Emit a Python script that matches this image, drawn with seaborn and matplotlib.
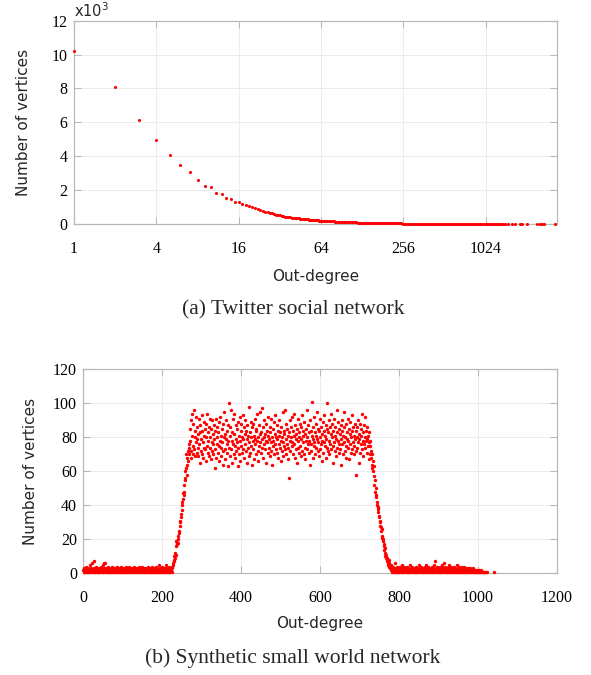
import numpy as np
import pandas as pd
import matplotlib
matplotlib.use("Agg")
import matplotlib.pyplot as plt
import seaborn as sns
from matplotlib.ticker import FixedLocator, FixedFormatter, NullLocator

# ---------------- (a) Twitter social network ----------------
tw_head_degrees = list(range(1, 65))
tw_head_counts = [10240, 8060, 6120, 4940, 4100, 3470, 3060, 2610, 2270, 2160,
                  1840, 1800, 1550, 1470, 1290, 1270, 1200, 1130, 1080, 1000,
                  930, 860, 800, 750, 700, 680, 650, 620, 590, 560,
                  540, 510, 480, 460, 440, 430, 410, 400, 380, 370,
                  360, 350, 340, 330, 320, 310, 300, 290, 285, 280,
                  270, 265, 260, 250, 245, 240, 230, 225, 220, 215,
                  210, 205, 200, 200]
tw_tail_degrees = [65, 67, 69, 71, 73, 75, 77, 79, 81, 83, 85, 87, 89, 91, 94, 96, 99, 101,
                   104, 107, 110, 113, 116, 119, 122, 125, 128,
                   131, 135, 138, 142, 146, 150, 154, 158, 162, 166, 171, 175, 180, 185, 190,
                   195, 200, 205, 211, 217, 223, 229, 235, 241, 248, 256,
                   263, 270, 277, 285, 293, 301, 309, 317, 326, 335, 344, 353, 363, 373, 383,
                   393, 404, 415, 426, 437, 449, 461, 474, 487, 500, 512,
                   527, 541, 556, 571, 586, 602, 619, 636, 653, 671, 689, 708, 727, 747, 767,
                   788, 810, 832, 854, 878, 901, 926, 951, 977, 1004, 1024,
                   1052, 1081, 1110, 1140, 1172, 1203, 1236, 1270, 1305, 1340, 1377, 1414,
                   1490, 1596, 1674, 1830, 1886, 2048, 2427, 2560, 2650, 2740, 3310]
tw_tail_counts = [195, 188, 180, 172, 165, 160, 154, 149, 143, 139, 134, 130, 126, 122, 117, 114, 110, 107,
                  103, 99, 96, 93, 89, 87, 84, 82, 79,
                  77, 74, 71, 69, 66, 64, 61, 59, 57, 55, 53, 51, 49, 47, 45,
                  43, 41, 40, 38, 36, 35, 34, 32, 31, 30, 28,
                  27, 26, 25, 24, 23, 22, 21, 20, 19, 18, 17, 16, 16, 15, 14,
                  14, 13, 12, 12, 11, 11, 10, 10, 9, 9, 8,
                  8, 7, 7, 7, 6, 6, 6, 5, 5, 5, 5, 4, 4, 4, 4,
                  3, 3, 3, 3, 3, 3, 2, 2, 2, 2, 2,
                  2, 2, 2, 1, 1, 1, 1, 1, 1, 1, 1, 1,
                  1, 1, 1, 1, 1, 1, 1, 1, 1, 1, 1]
tw_xticks = [1, 4, 16, 64, 256, 1024]
tw_xticklabels = ["1", "4", "16", "64", "256", "1024"]
tw_yticks = [0, 2, 4, 6, 8, 10, 12]

# ---------------- (b) Synthetic small world network ----------------
sw_low_left_start = 0
sw_low_left = [2, 1, 3, 2, 1, 2, 4, 1, 2, 3, 1, 2, 1, 3, 2, 1, 2, 5, 1, 2,
               3, 1, 2, 6, 2, 1, 7, 3, 1, 2, 1, 2, 4, 1, 3, 2, 1, 2, 1, 3,
               2, 1, 2, 1, 4, 2, 3, 1, 2, 5, 1, 2, 6, 3, 1, 6, 2, 1, 3, 2,
               1, 2, 4, 1, 2, 1, 3, 2, 1, 2, 3, 1, 2, 1, 4, 2, 1, 3, 2, 1,
               2, 3, 1, 2, 1, 2, 4, 1, 3, 2, 1, 2, 1, 3, 2, 4, 1, 2, 1, 2,
               3, 1, 2, 1, 2, 3, 1, 4, 2, 1, 2, 1, 3, 2, 1, 2, 4, 1, 2, 3,
               1, 2, 1, 3, 2, 1, 2, 1, 4, 2, 3, 1, 2, 1, 2, 3, 1, 2, 1, 2,
               2, 4, 1, 2, 3, 1, 2, 1, 2, 4, 1, 2, 3, 1, 2, 1, 3, 2, 1, 2,
               1, 3, 2, 1, 2, 4, 1, 2, 1, 3, 2, 1, 2, 3, 1, 4, 2, 1, 2, 1,
               3, 2, 1, 2, 1, 4, 2, 1, 3, 2, 1, 2, 5, 1, 2, 3, 1, 2, 1, 2,
               4, 1, 2, 1, 3, 2, 1, 2, 1, 3, 5, 2, 1, 2, 3, 1, 4, 2, 1, 2]
sw_rise_start = 220
sw_rise = [2, 1, 3, 2, 4, 1, 3, 6, 5, 8,
           7, 10, 9, 12, 11, 16, 19, 18, 17, 20,
           22, 18, 25, 24, 28, 30, 31, 33, 35, 37,
           40, 42, 44, 47, 48, 46, 52, 56, 55, 60,
           62, 70, 58, 64, 68, 72, 66, 74, 70, 76]
sw_plateau_start = 270
sw_plateau = [78, 85, 72, 90, 68, 81, 94, 75, 70, 88, 96, 73, 80, 69, 84, 77, 92, 71, 86, 79,
              74, 82, 69, 91, 76, 83, 65, 87, 72, 79, 84, 70, 93, 77, 68, 81, 74, 89, 73, 85,
              80, 66, 88, 75, 94, 71, 83, 78, 69, 86, 91, 74, 80, 67, 85, 77, 72, 90, 82, 76,
              70, 87, 79, 62, 84, 73, 91, 68, 80, 76, 86, 71, 83, 75, 89, 66, 78, 92, 74, 81,
              69, 85, 77, 72, 88, 64, 80, 95, 73, 82, 67, 79, 90, 71, 84, 76, 63, 87, 78, 74,
              100, 81, 69, 86, 73, 96, 78, 65, 83, 76, 91, 70, 82, 94, 75, 68, 87, 79, 72, 85,
              77, 63, 89, 74, 81, 70, 92, 78, 66, 84, 75, 88, 71, 80, 93, 73, 79, 86, 68, 82,
              76, 90, 72, 84, 65, 79, 87, 74, 81, 69, 98, 77, 83, 71, 89, 75, 80, 64, 86, 78,
              73, 88, 81, 67, 79, 91, 76, 84, 70, 85, 78, 94, 72, 80, 66, 87, 75, 82, 95, 77,
              71, 83, 79, 97, 74, 86, 68, 80, 90, 76, 82, 73, 88, 78, 65, 84, 77, 92, 71, 81,
              79, 74, 86, 69, 83, 77, 91, 72, 80, 64, 85, 78, 75, 89, 70, 82, 76, 93, 73, 80,
              87, 71, 79, 84, 68, 81, 76, 90, 74, 83, 78, 66, 86, 72, 80, 95, 77, 69, 84, 75,
              82, 96, 73, 79, 88, 70, 85, 76, 81, 67, 74, 56, 83, 78, 90, 72, 80, 86, 75, 92,
              77, 84, 70, 81, 94, 76, 68, 87, 73, 82, 79, 65, 85, 74, 91, 78, 71, 83, 80, 88,
              75, 69, 86, 79, 93, 72, 84, 77, 81, 70, 89, 74, 82, 67, 85, 78, 96, 73, 80, 76,
              87, 71, 83, 78, 64, 90, 76, 84, 72, 81, 101, 79, 68, 86, 75, 92, 77, 83, 70, 88,
              74, 81, 79, 95, 72, 85, 77, 69, 84, 80, 91, 73, 86, 76, 66, 82, 78, 89, 71, 84,
              77, 93, 75, 81, 68, 87, 79, 74, 85, 100, 72, 83, 78, 90, 70, 86, 76, 82, 94, 73,
              80, 88, 75, 65, 84, 77, 91, 72, 81, 86, 69, 79, 96, 74, 83, 78, 89, 71, 85, 76,
              82, 73, 87, 79, 64, 90, 76, 84, 70, 81, 95, 77, 86, 72, 80, 68, 88, 75, 83, 79,
              74, 91, 78, 85, 67, 82, 76, 89, 71, 80, 84, 73, 93, 77, 86, 70, 81, 75, 88, 79,
              72, 84, 58, 80, 86, 74, 90, 77, 65, 82, 79, 88, 71, 85, 76, 81, 94, 73, 78, 83,
              69, 87, 76, 80, 74, 92, 78, 84, 71, 79, 86, 75, 81, 67, 77, 83, 70, 78, 75, 72]
sw_fall_start = 730
sw_fall = [68, 64, 70, 62, 66, 60, 57, 63, 52, 55,
           48, 50, 45, 46, 42, 40, 38, 39, 36, 34,
           33, 31, 30, 28, 27, 25, 26, 22, 21, 20,
           19, 16, 17, 14, 15, 12, 10, 11, 9, 8,
           7, 9, 6, 5, 8, 4, 6, 3, 5, 2]
sw_low_right_start = 780
sw_low_right = [3, 5, 2, 1, 4, 2, 3, 1, 2, 6, 1, 2, 3, 1, 4, 2, 1, 3, 2, 1,
                2, 1, 3, 2, 4, 1, 2, 1, 3, 5, 2, 1, 2, 4, 1, 3, 2, 1, 2, 3,
                1, 4, 2, 1, 3, 2, 1, 2, 5, 1, 3, 2, 1, 2, 4, 1, 2, 3, 1, 2,
                3, 1, 2, 4, 1, 2, 1, 3, 2, 1, 5, 2, 1, 3, 2, 1, 4, 2, 1, 3,
                2, 1, 3, 1, 2, 4, 1, 2, 5, 1, 3, 2, 1, 2, 1, 4, 2, 3, 1, 2,
                1, 3, 2, 1, 4, 2, 1, 3, 5, 2, 1, 7, 2, 3, 1, 2, 4, 1, 2, 1,
                3, 2, 1, 4, 2, 1, 3, 1, 2, 5, 1, 2, 3, 1, 6, 2, 1, 4, 2, 1,
                2, 3, 1, 2, 1, 4, 2, 5, 1, 3, 2, 1, 2, 4, 1, 2, 3, 1, 2, 1,
                4, 1, 2, 3, 1, 2, 1, 5, 2, 1, 3, 2, 4, 1, 2, 1, 3, 1, 2, 4,
                1, 2, 3, 1, 2, 4, 1, 2, 1, 3, 2, 1, 2, 0, 1, 3, 1, 2, 1, 2,
                3, 1, 2, 1, 0, 2, 1, 3, 1, 0, 2, 1, 1, 2, 0, 1, 2, 1, 0, 1,
                2, 1, 0, 1, 2, 0, 1, 1, 0, 2, 1, 0, 1, 0, 1, 1, 0, 1, 0, 0,
                1, 0, 0, 1, 0, 0, 0, 0, 0, 0, 0, 0, 0, 0, 0, 0, 0, 0, 0, 0, 1]
sw_xticks = [0, 200, 400, 600, 800, 1000, 1200]
sw_yticks = [0, 20, 40, 60, 80, 100, 120]

# ---------------- build frames ----------------
df_tw = pd.DataFrame({
    "degree": tw_head_degrees + tw_tail_degrees,
    "count": tw_head_counts + tw_tail_counts,
})
df_tw["thousands"] = df_tw["count"] / 1000.0

segments = [(sw_low_left_start, sw_low_left), (sw_rise_start, sw_rise),
            (sw_plateau_start, sw_plateau), (sw_fall_start, sw_fall),
            (sw_low_right_start, sw_low_right)]
parts = []
for start, vals in segments:
    parts.append(pd.DataFrame({"degree": np.arange(start, start + len(vals)), "count": vals}))
df_sw = pd.concat(parts, ignore_index=True)
df_sw = df_sw[df_sw["count"] > 0]

# ---------------- style ----------------
sns.set_style("white")
plt.rcParams["font.family"] = ["DejaVu Sans"]
SERIF = ["Liberation Serif", "DejaVu Serif"]
SPINE = "#b8b8b8"
GRID = "#ececec"
RED = "#ff0000"

W, H = 591, 675
fig = plt.figure(figsize=(W / 100, H / 100), dpi=100)
fig.patch.set_facecolor("white")

def px_axes(left, top, right, bottom):
    return fig.add_axes([left / W, 1 - bottom / H, (right - left) / W, (bottom - top) / H])

ax1 = px_axes(74, 20.7, 556.7, 224)
ax2 = px_axes(83.3, 369.3, 556.7, 573.3)

def style(ax):
    for s in ax.spines.values():
        s.set_color(SPINE)
        s.set_linewidth(0.9)
        s.set_visible(True)
    ax.grid(True, which="major", color=GRID, linewidth=0.7)
    ax.set_axisbelow(True)
    ax.tick_params(which="major", direction="in", length=5, width=0.8, color=SPINE,
                   top=True, right=True, bottom=True, left=True,
                   labeltop=False, labelright=False, labelsize=11.5, labelcolor="black")
    ax.tick_params(axis="x", pad=12)
    ax.tick_params(axis="y", pad=4.5)
    for lab in ax.get_xticklabels() + ax.get_yticklabels():
        lab.set_fontfamily(SERIF)

# (a)
sns.scatterplot(data=df_tw, x="degree", y="thousands", ax=ax1, color=RED, s=5,
                linewidth=0, clip_on=False, zorder=3, legend=False)
ax1.set_xscale("log", base=2)
ax1.set_xlim(1, 3385)
ax1.set_ylim(0, 12)
ax1.xaxis.set_major_locator(FixedLocator(tw_xticks))
ax1.xaxis.set_major_formatter(FixedFormatter(tw_xticklabels))
ax1.xaxis.set_minor_locator(NullLocator())
ax1.yaxis.set_major_locator(FixedLocator(tw_yticks))
ax1.set_yticklabels([str(v) for v in tw_yticks])
style(ax1)
ax1.set_xlabel("Out-degree", fontsize=11, va="center")
ax1.set_ylabel("Number of vertices", fontsize=11, va="center")
ax1.xaxis.set_label_coords(0.5, -0.256)
ax1.yaxis.set_label_coords(-0.1046, 0.5)
fig.text(74 / W, 1 - 17 / H, r"x10$^{3}$", fontsize=10.5, ha="left", va="baseline")

# (b)
sns.scatterplot(data=df_sw, x="degree", y="count", ax=ax2, color=RED, s=6,
                linewidth=0, clip_on=False, zorder=3, legend=False)
ax2.set_xlim(0, 1200)
ax2.set_ylim(0, 120)
ax2.xaxis.set_major_locator(FixedLocator(sw_xticks))
ax2.yaxis.set_major_locator(FixedLocator(sw_yticks))
ax2.set_xticklabels([str(v) for v in sw_xticks])
ax2.set_yticklabels([str(v) for v in sw_yticks])
style(ax2)
ax2.set_xlabel("Out-degree", fontsize=11, va="center")
ax2.set_ylabel("Number of vertices", fontsize=11, va="center")
ax2.xaxis.set_label_coords(0.5, -0.2485)
ax2.yaxis.set_label_coords(-0.1105, 0.5)

# captions
fig.text(293 / W, 1 - 310 / H, "(a) Twitter social network", fontsize=15.5,
         family=SERIF, ha="center", va="center")
fig.text(293 / W, 1 - 658 / H, "(b) Synthetic small world network", fontsize=15.5,
         family=SERIF, ha="center", va="center")

fig.savefig("out.png", dpi=100, facecolor="white")
